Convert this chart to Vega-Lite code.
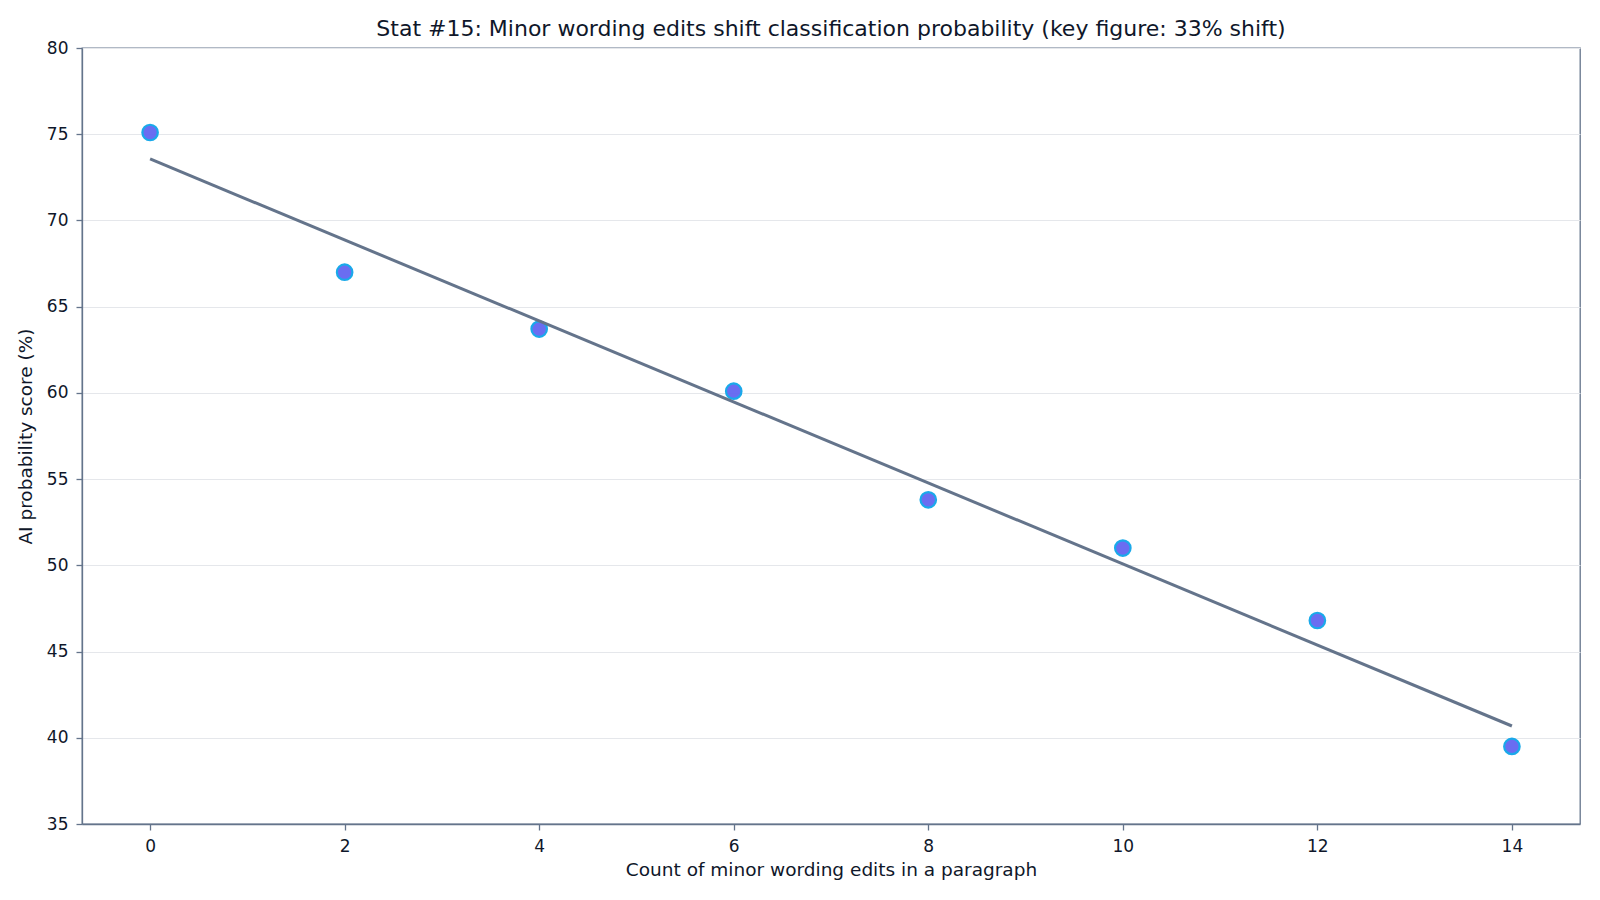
{
  "$schema": "https://vega.github.io/schema/vega-lite/v6.json",
  "description": "Minor wording edits vs AI probability score",
  "autosize": "none",
  "padding": {"left": 82, "top": 48, "right": 20, "bottom": 76},
  "width": 1498,
  "height": 776,
  "background": "white",
  "title": {
    "text": "Stat #15: Minor wording edits shift classification probability (key figure: 33% shift)",
    "font": "DejaVu Sans",
    "fontSize": 22,
    "fontWeight": "normal",
    "color": "#0f172a",
    "anchor": "middle",
    "offset": -2
  },
  "data": {
    "values": [
      {"edits": 0, "score": 75.1},
      {"edits": 2, "score": 67.0},
      {"edits": 4, "score": 63.7},
      {"edits": 6, "score": 60.1},
      {"edits": 8, "score": 53.8},
      {"edits": 10, "score": 51.0},
      {"edits": 12, "score": 46.8},
      {"edits": 14, "score": 39.5}
    ]
  },
  "encoding": {
    "x": {
      "field": "edits",
      "type": "quantitative",
      "title": "Count of minor wording edits in a paragraph",
      "scale": {"domain": [-0.7, 14.7], "nice": false, "zero": false},
      "axis": {"values": [0, 2, 4, 6, 8, 10, 12, 14], "grid": false}
    },
    "y": {
      "field": "score",
      "type": "quantitative",
      "title": "AI probability score (%)",
      "scale": {"domain": [35, 80], "nice": false, "zero": false},
      "axis": {"values": [35, 40, 45, 50, 55, 60, 65, 70, 75, 80], "grid": true}
    }
  },
  "layer": [
    {
      "mark": {"type": "point", "filled": true, "size": 240, "color": "#6366f1", "opacity": 0.95, "stroke": "#0ea5e9", "strokeWidth": 2.2}
    },
    {
      "transform": [{"regression": "score", "on": "edits"}],
      "mark": {"type": "line", "color": "#64748b", "strokeWidth": 3}
    }
  ],
  "config": {
    "font": "DejaVu Sans",
    "view": {"stroke": "#64748b", "strokeWidth": 1.3},
    "axis": {
      "labelFont": "DejaVu Sans",
      "titleFont": "DejaVu Sans",
      "labelFontSize": 17,
      "titleFontSize": 18.5,
      "titleFontWeight": "normal",
      "labelColor": "#0f172a",
      "titleColor": "#0f172a",
      "domainColor": "#64748b",
      "domainWidth": 1.3,
      "tickColor": "#64748b",
      "tickSize": 6,
      "tickWidth": 1.3,
      "labelPadding": 8,
      "gridColor": "#e5e7eb",
      "gridWidth": 1.2
    },
    "axisX": {"titlePadding": 6},
    "axisY": {"titlePadding": 11}
  }
}
